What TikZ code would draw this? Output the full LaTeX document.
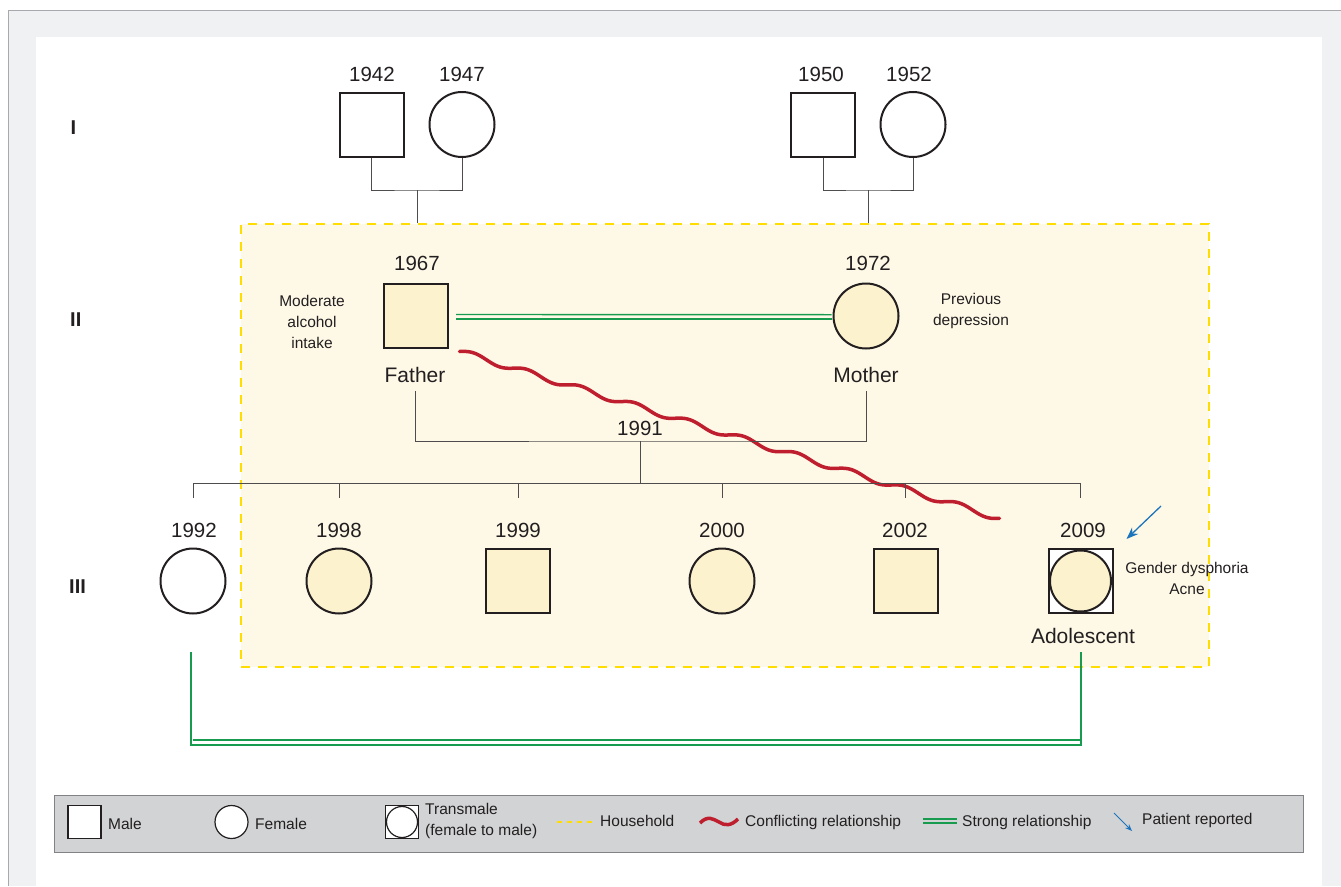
\documentclass[tikz,border=0pt]{standalone}
\usepackage{fontspec}
\setmainfont{Liberation Sans}
\usetikzlibrary{arrows.meta,calc}
\definecolor{ink}{HTML}{231F20}
\definecolor{framebg}{HTML}{F0F1F3}
\definecolor{frameline}{HTML}{A7A9AC}
\definecolor{hhfill}{HTML}{FEF9E7}
\definecolor{hhline}{HTML}{FFDD00}
\definecolor{memb}{HTML}{FCF3CE}
\definecolor{grn}{HTML}{179B4F}
\definecolor{rd}{HTML}{BE1E2D}
\definecolor{blu}{HTML}{1C75BC}
\definecolor{lgfill}{HTML}{D1D3D4}
\definecolor{lgline}{HTML}{808285}

\tikzset{
  male/.style={rectangle, draw=ink, line width=2pt, fill=white, minimum size=64pt, inner sep=0pt},
  female/.style={circle, draw=ink, line width=2pt, fill=white, minimum size=65pt, inner sep=0pt},
  home/.style={fill=memb},
  yr/.style={font=\fontsize{20.5}{24}\selectfont, text=ink, inner sep=0pt},
  nm/.style={font=\fontsize{21}{25}\selectfont, text=ink, inner sep=0pt},
  note/.style={font=\fontsize{15.5}{21}\selectfont, text=ink, align=center, inner sep=0pt},
  gen/.style={font=\bfseries\fontsize{20}{24}\selectfont, text=ink, anchor=west, inner sep=0pt},
  link/.style={draw=ink!80, line width=1pt},
  strongthin/.style={draw=grn, line width=1.4pt},
  strongthick/.style={draw=grn, line width=2.2pt},
  conflict/.style={draw=rd, line width=3.5pt, line cap=round},
  patient/.style={draw=blu, line width=1.3pt, -{Stealth[length=12pt,width=9pt]}},
  lgtext/.style={font=\fontsize{15.5}{21}\selectfont, text=ink, anchor=west, inner sep=0pt, align=left},
  lgsym/.style={line width=1.2pt, minimum size=33pt},
}

\begin{document}
\begin{tikzpicture}[x=1pt,y=-1pt]
\useasboundingbox (0,0) rectangle (1341,886);

% page frame
\fill[white] (0,0) rectangle (1341,886);
\fill[framebg] (8,10) rectangle (1341,886);
\draw[frameline, line width=1pt] (8,886) -- (8,10) -- (1341,10);
\fill[white] (36,37) rectangle (1322,886);

% household
\node[draw=hhline, fill=hhfill, line width=2.2pt, dash pattern=on 9pt off 8pt,
      minimum width=968pt, minimum height=443pt, inner sep=0pt] (hh) at (725,445.5) {};

% generation labels
\node[gen] (gI) at (70.5,128) {I};
\node[gen] (gII) at (70,320) {II};
\node[gen] (gIII) at (69,587) {III};

% generation I
\node[male] (g1a) at (371.5,124.5) {};
\node[female] (g1b) at (462,124.5) {};
\node[male] (g1c) at (823,124.5) {};
\node[female] (g1d) at (913,124.5) {};
\node[yr] (y1a) at (372,74) {1942};
\node[yr] (y1b) at (462,74) {1947};
\node[yr] (y1c) at (821,74) {1950};
\node[yr] (y1d) at (909,74) {1952};

\coordinate (u1) at (417,190);
\coordinate (u2) at (868,190);
\draw[link] (g1a.south) |- (u1) -| (g1b.south);
\draw[link] (g1c.south) |- (u2) -| (g1d.south);
\draw[link] (u1) -- (u1 |- hh.north);
\draw[link] (u2) -- (u2 |- hh.north);

% generation II
\node[male, home] (fa) at (415.5,315.5) {};
\node[female, home] (mo) at (866,316) {};
\node[yr] (fay) at (417,263) {1967};
\node[yr] (moy) at (868,263) {1972};
\node[nm] (fan) at (415,375) {Father};
\node[nm] (mon) at (866,375) {Mother};
\node[note] (fanote) at (312,321.5) {Moderate\\alcohol\\intake};
\node[note] (monote) at (971,311) {Previous\\depression};

% strong bond between the parents
\draw[strongthin] ([xshift=7.5pt,yshift=1pt]fa.east) -- ([xshift=-1pt,yshift=1.3pt]mo.west);
\draw[strongthick] ([xshift=7.5pt,yshift=-3.5pt]fa.east) -- ([xshift=-1pt,yshift=-3pt]mo.west);

% conflict between father and adolescent: a stepped wave
\coordinate (cstart) at ([xshift=11pt,yshift=-3pt]fa.south east);
\draw[conflict, shift={(cstart)}] plot[domain=0:540, samples=200, smooth]
      ({\x},{0.309*\x - 3*sin(\x*6.6667)});

% sibship
\coordinate (mid) at (640,441);
\coordinate (bar) at (640,483);
\draw[link] ([yshift=-8pt]fan.south) |- (mid) -| ([yshift=-8pt]mon.south);
\node[yr] (my) at (640,428) {1991};
\draw[link] (mid) -- (bar);

% generation III
\node[female] (c1) at (193,581) {};
\node[female, home] (c2) at (339,581) {};
\node[male, home] (c3) at (518,581) {};
\node[female, home] (c4) at (722,581) {};
\node[male, home] (c5) at (905.5,581) {};
\node[male] (c6) at (1080.5,581) {};
\node[female, home, minimum size=61pt] (c6in) at (1080.5,581) {};
\node[yr] (c1y) at (194,530) {1992};
\node[yr] (c2y) at (339,530) {1998};
\node[yr] (c3y) at (518,530) {1999};
\node[yr] (c4y) at (722,530) {2000};
\node[yr] (c5y) at (905,530) {2002};
\node[yr] (c6y) at (1083,530) {2009};

\draw[link] (c1 |- bar) -- (c6 |- bar);
\foreach \c in {c1,c2,c3,c4,c5,c6} \draw[link] (\c |- bar) -- ++(0,15);

\node[nm] (adn) at (1083,636) {Adolescent};
\node[note] (adnote) at (1187,578) {Gender dysphoria\\Acne};
\coordinate (ptail) at (1161,506);
\draw[patient] (ptail) -- ([shift={(13,-9)}]c6.north east);

% strong bond between siblings
\coordinate (gl) at (191,652);
\coordinate (gr) at (1081,652);
\draw[strongthick] (gl) -- ++(0,93) -| (gr);
\draw[strongthin] ([shift={(1.5,88)}]gl) -- ([shift={(-1.5,88)}]gr);

% legend
\node[draw=lgline, fill=lgfill, line width=1pt, minimum width=1249pt,
      minimum height=57pt, inner sep=0pt] (lg) at (678.5,823.5) {};
\node[male, lgsym] (lmale) at (84.5,822) {};
\node[lgtext] (lmalet) at (108,824) {Male};
\node[female, lgsym] (lfem) at (231.5,822) {};
\node[lgtext] (lfemt) at (255,824) {Female};
\node[male, lgsym] (ltm) at (402,822) {};
\node[female, lgsym, minimum size=31pt] (ltmc) at (402,822) {};
\node[lgtext] (ltmt) at (425,820.5) {Transmale\\(female to male)};
\draw[hhline, line width=2pt, dash pattern=on 5pt off 5pt] (557,822) -- (594,822);
\node[lgtext] (lhht) at (600,821) {Household};
\draw[rd, line width=3.5pt] (700,823) .. controls (708,815) and (713,819) .. (719,822)
      .. controls (725,826) and (731,826) .. (738,819);
\node[lgtext] (lcft) at (745,822) {Conflicting relationship};
\draw[strongthin] (923,819) -- (957,819);
\draw[strongthick] (923,823) -- (957,823);
\node[lgtext] (lstt) at (962,822) {Strong relationship};
\draw[draw=blu, line width=1pt, -{Stealth[length=7pt,width=5.5pt]}] (1114,813) -- (1132,831);
\node[lgtext] (lpt) at (1142,820) {Patient reported};
\end{tikzpicture}
\end{document}
